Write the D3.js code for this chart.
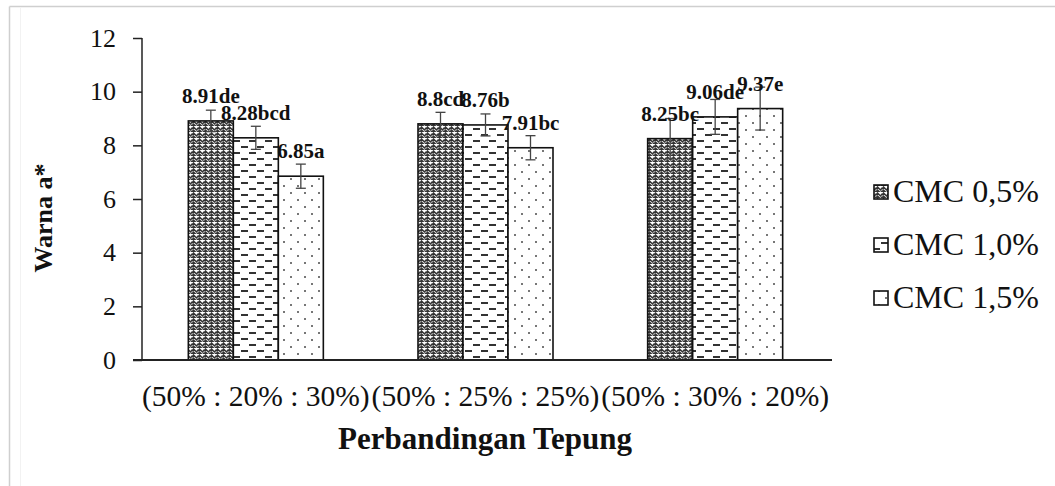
<!DOCTYPE html>
<html>
<head>
<meta charset="utf-8">
<script src="https://cdn.jsdelivr.net/npm/d3@7"></script>
<style>
  html, body { margin: 0; padding: 0; background: #fff; }
  svg { display: block; }
  text { font-family: "Liberation Serif", "Times New Roman", serif; fill: #111; }
</style>
</head>
<body>
<svg id="chart" width="1055" height="486"></svg>
<script>
// Flour ratio groups
const categories = ["(50% : 20% : 30%)", "(50% : 25% : 25%)", "(50% : 30% : 20%)"];
// CMC concentration series
const seriesNames = ["CMC 0,5%", "CMC 1,0%", "CMC 1,5%"];
// Mean a* colour values
const cmc05 = [8.91, 8.8, 8.25];
const cmc10 = [8.28, 8.76, 9.06];
const cmc15 = [6.85, 7.91, 9.37];
// Standard deviations (error bars)
const err05 = [0.40, 0.43, 0.75];
const err10 = [0.43, 0.41, 0.65];
const err15 = [0.45, 0.45, 0.80];
// Significance letters
const letters05 = ["de", "cd", "bc"];
const letters10 = ["bcd", "b", "de"];
const letters15 = ["a", "bc", "e"];
// Y axis ticks
const yTicks = [0, 2, 4, 6, 8, 10, 12];

const seriesValues = [cmc05, cmc10, cmc15];
const seriesErr = [err05, err10, err15];
const seriesLetters = [letters05, letters10, letters15];

const svg = d3.select("#chart");

// outer frame
svg.append("line").attr("x1", 9.5).attr("x2", 1055).attr("y1", 6.5).attr("y2", 6.5)
  .attr("stroke", "#cfcfcf").attr("stroke-width", 1.5);
svg.append("line").attr("x1", 9.5).attr("x2", 9.5).attr("y1", 6.5).attr("y2", 486)
  .attr("stroke", "#cfcfcf").attr("stroke-width", 1.5);
svg.append("line").attr("x1", 20.5).attr("x2", 20.5).attr("y1", 8).attr("y2", 486)
  .attr("stroke", "#f2f2f2").attr("stroke-width", 1);

// fill patterns
const defs = svg.append("defs");
const pZig = defs.append("pattern").attr("id", "pat0").attr("patternUnits", "userSpaceOnUse")
  .attr("width", 6).attr("height", 6);
pZig.append("rect").attr("width", 6).attr("height", 6).attr("fill", "#fff");
pZig.append("path").attr("d", "M-1,4 L1.5,1 L4.5,4 L7,1 M-1,7 L1.5,4 L4.5,7 L7,4")
  .attr("fill", "none").attr("stroke", "#333").attr("stroke-width", 1.5);

const pDash = defs.append("pattern").attr("id", "pat1").attr("patternUnits", "userSpaceOnUse")
  .attr("width", 16).attr("height", 12);
pDash.append("rect").attr("width", 16).attr("height", 12).attr("fill", "#fff");
pDash.append("rect").attr("x", 1).attr("y", 2).attr("width", 7).attr("height", 2).attr("fill", "#333");
pDash.append("rect").attr("x", 9).attr("y", 8).attr("width", 7).attr("height", 2).attr("fill", "#333");

const pDot = defs.append("pattern").attr("id", "pat2").attr("patternUnits", "userSpaceOnUse")
  .attr("width", 14).attr("height", 14);
pDot.append("rect").attr("width", 14).attr("height", 14).attr("fill", "#fff");
pDot.append("rect").attr("x", 3).attr("y", 3).attr("width", 2).attr("height", 2).attr("fill", "#777");
pDot.append("rect").attr("x", 10).attr("y", 10).attr("width", 2).attr("height", 2).attr("fill", "#777");

const patterns = ["url(#pat0)", "url(#pat1)", "url(#pat2)"];

// scales
const x0 = d3.scaleBand().domain(categories).range([141, 830]).paddingInner(0).paddingOuter(0);
const x1 = d3.scaleBand().domain(seriesNames).range([0, 135]);
const groupOffset = (x0.bandwidth() - 135) / 2;
const y = d3.scaleLinear().domain([0, 12]).range([360, 38]);

// y axis
const yAxis = d3.axisLeft(y).tickValues(yTicks).tickSize(9).tickPadding(17);
const gy = svg.append("g").attr("transform", "translate(142,0)").call(yAxis);
gy.select(".domain").attr("stroke", "#222").attr("stroke-width", 1.5).attr("d", "M0,38V360");
gy.selectAll(".tick line").attr("stroke", "#222").attr("stroke-width", 1.5);
gy.selectAll(".tick text").attr("font-size", 26).attr("font-family", "Liberation Serif, Times New Roman, serif")
  .attr("fill", "#111");

// bars
const flat = [];
categories.forEach((c, i) => {
  seriesNames.forEach((s, j) => {
    flat.push({ cat: c, ser: s, j, v: seriesValues[j][i], e: seriesErr[j][i], lab: seriesLetters[j][i] });
  });
});
const bx = d => x0(d.cat) + groupOffset + x1(d.ser);

svg.append("g").selectAll("rect").data(flat).join("rect")
  .attr("x", bx)
  .attr("y", d => y(d.v))
  .attr("width", x1.bandwidth())
  .attr("height", d => y(0) - y(d.v))
  .attr("fill", d => patterns[d.j])
  .attr("stroke", "#111").attr("stroke-width", 1.6);

// x axis line
svg.append("line").attr("x1", 133).attr("x2", 832).attr("y1", 360).attr("y2", 360)
  .attr("stroke", "#222").attr("stroke-width", 2);

// error bars
const eg = svg.append("g").attr("stroke", "#444").attr("stroke-width", 1.3);
flat.forEach(d => {
  const cx = bx(d) + x1.bandwidth() / 2;
  eg.append("line").attr("x1", cx).attr("x2", cx).attr("y1", y(d.v + d.e)).attr("y2", y(d.v - d.e));
  eg.append("line").attr("x1", cx - 5).attr("x2", cx + 5).attr("y1", y(d.v + d.e)).attr("y2", y(d.v + d.e));
  eg.append("line").attr("x1", cx - 5).attr("x2", cx + 5).attr("y1", y(d.v - d.e)).attr("y2", y(d.v - d.e));
});

// value labels
svg.append("g").selectAll("text").data(flat).join("text")
  .attr("x", d => bx(d) + x1.bandwidth() / 2)
  .attr("y", d => y(d.v) - 18)
  .attr("text-anchor", "middle")
  .attr("font-size", 21).attr("font-weight", "bold")
  .text(d => String(d.v) + d.lab);

// category labels
svg.append("g").selectAll("text").data(categories).join("text")
  .attr("x", d => x0(d) + x0.bandwidth() / 2)
  .attr("y", 406)
  .attr("text-anchor", "middle")
  .attr("font-size", 29.5)
  .text(d => d);

// axis titles
svg.append("text").attr("x", 485).attr("y", 449).attr("text-anchor", "middle")
  .attr("font-size", 31).attr("font-weight", "bold").text("Perbandingan Tepung");
svg.append("text").attr("transform", "translate(52,218) rotate(-90)").attr("text-anchor", "middle")
  .attr("font-size", 26).attr("font-weight", "bold").text("Warna  a*");

// legend
const lg = svg.append("g");
seriesNames.forEach((s, j) => {
  const cy = 192 + j * 53;
  lg.append("rect").attr("x", 874).attr("y", cy - 7).attr("width", 14).attr("height", 14)
    .attr("fill", patterns[j]).attr("stroke", "#111").attr("stroke-width", 1.6);
  lg.append("text").attr("x", 893).attr("y", cy + 10).attr("font-size", 32).text(s);
});
</script>
</body>
</html>
